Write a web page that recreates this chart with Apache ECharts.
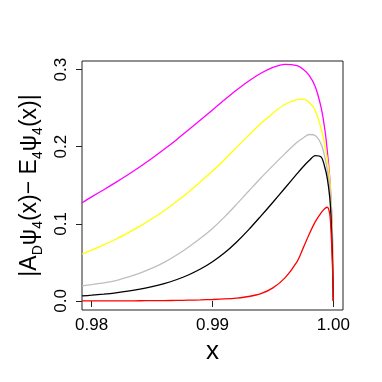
<!DOCTYPE html>
<html>
<head>
<meta charset="utf-8">
<script src="https://cdn.jsdelivr.net/npm/echarts@6/dist/echarts.min.js"></script>
<style>
  html, body { margin: 0; padding: 0; background: #fff; }
  #chart { width: 382px; height: 382px; }
</style>
</head>
<body>
<div id="chart"></div>
<script>
  // x positions, shared by every curve
  const xValues = [0.9792, 0.980, 0.981, 0.982, 0.983, 0.984, 0.985, 0.986, 0.987, 0.988,
                   0.989, 0.990, 0.991, 0.992, 0.993, 0.994, 0.995, 0.996, 0.997, 0.9975,
                   0.998, 0.9985, 0.999, 0.9993, 0.9995, 0.9997, 0.9998, 0.99992, 1.0];
  const magentaY = [0.1273, 0.135, 0.1442, 0.1537, 0.1636, 0.174, 0.185, 0.1966, 0.2088, 0.2215,
                    0.2345, 0.2477, 0.2608, 0.2734, 0.2851, 0.2952, 0.3028, 0.3068, 0.305, 0.3005,
                    0.2925, 0.278, 0.25, 0.222, 0.195, 0.16, 0.135, 0.09, 0];
  const yellowY = [0.0609, 0.066, 0.0728, 0.08, 0.0882, 0.097, 0.1065, 0.117, 0.1285, 0.141,
                   0.1545, 0.1685, 0.1835, 0.1995, 0.215, 0.23, 0.2435, 0.255, 0.261, 0.2618,
                   0.2575, 0.247, 0.223, 0.201, 0.184, 0.158, 0.135, 0.09, 0];
  const grayY = [0.0196, 0.0213, 0.0235, 0.0264, 0.031, 0.0362, 0.0425, 0.050, 0.0592, 0.0697,
                 0.0812, 0.094, 0.109, 0.1255, 0.1425, 0.1595, 0.1755, 0.191, 0.2058, 0.2112,
                 0.2158, 0.2145, 0.203, 0.186, 0.17, 0.148, 0.128, 0.085, 0];
  const blackY = [0.0065, 0.0075, 0.0089, 0.0106, 0.0127, 0.0153, 0.0185, 0.0225, 0.0275, 0.0337,
                  0.0414, 0.0509, 0.0624, 0.0765, 0.0925, 0.110, 0.128, 0.1465, 0.165, 0.174,
                  0.182, 0.1885, 0.1865, 0.173, 0.159, 0.135, 0.112, 0.06, 0];
  const redY = [0, 0.0001, 0.0001, 0.0002, 0.0002, 0.0003, 0.0004, 0.0005, 0.0007, 0.001,
                0.0014, 0.0019, 0.0026, 0.0038, 0.0058, 0.0095, 0.017, 0.030, 0.051, 0.0685,
                0.0865, 0.1025, 0.1145, 0.1198, 0.1215, 0.113, 0.093, 0.05, 0];
  const xTicks = [0.98, 0.99, 1.00];
  const yTicks = [0, 0.1, 0.2, 0.3];

  const font = "'Liberation Sans', Arial, sans-serif";
  const chart = echarts.init(document.getElementById('chart'));

  function curve(ys, color) {
    return {
      type: 'line',
      data: xValues.map((x, i) => [x, ys[i]]),
      showSymbol: false,
      smooth: 0.3,
      lineStyle: { color: color, width: 1.3 },
      emphasis: { disabled: true }
    };
  }

  chart.setOption({
    animation: false,
    grid: {
      left: 82, top: 61, right: 39, bottom: 72,
      show: true, borderColor: '#222', borderWidth: 1
    },
    xAxis: {
      type: 'value',
      min: 0.9792, max: 1.0008,
      name: 'x',
      nameLocation: 'middle',
      nameGap: 23,
      nameTextStyle: { fontFamily: font, fontSize: 26, color: '#000' },
      axisLine: { show: false },
      splitLine: { show: false },
      axisTick: { show: true, length: 6, inside: false, customValues: xTicks, lineStyle: { color: '#222' } },
      axisLabel: {
        customValues: xTicks, margin: 7,
        fontFamily: font, fontSize: 17, color: '#000',
        formatter: v => v.toFixed(2)
      }
    },
    yAxis: {
      type: 'value',
      min: -0.0117, max: 0.3111,
      name: '|A{s|D}ψ{s|4}(x)− E{s|4}ψ{s|4}(x)|',
      nameLocation: 'middle',
      nameRotate: 90,
      nameGap: 47,
      nameTextStyle: {
        fontFamily: font, fontSize: 23, color: '#000', lineHeight: 30, verticalAlign: 'middle',
        rich: {
          s: { fontFamily: font, fontSize: 14, color: '#000', lineHeight: 14, verticalAlign: 'bottom' }
        }
      },
      axisLine: { show: false },
      splitLine: { show: false },
      axisTick: { show: true, length: 6, inside: false, customValues: yTicks, lineStyle: { color: '#222' } },
      axisLabel: {
        customValues: yTicks, margin: 12, rotate: 90,
        fontFamily: font, fontSize: 17, color: '#000',
        formatter: v => v.toFixed(1)
      }
    },
    series: [
      curve(magentaY, '#ff00ff'),
      curve(yellowY, '#ffff00'),
      curve(grayY, '#bebebe'),
      curve(blackY, '#000000'),
      curve(redY, '#ff0000')
    ]
  });
</script>
</body>
</html>
